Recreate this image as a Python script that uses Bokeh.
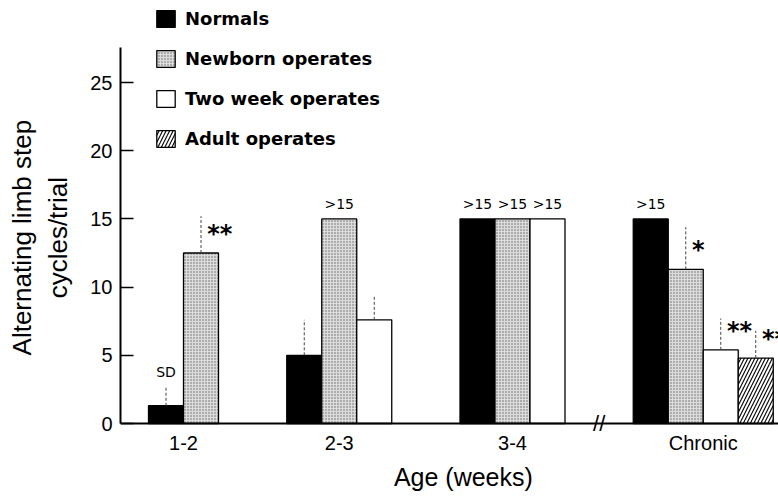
import math
import numpy as np
from bokeh.plotting import figure
from bokeh.models import ColumnDataSource, Range1d, FixedTicker, Legend, LegendItem, Label, Span
from bokeh.embed import file_html
from bokeh.resources import INLINE
from bokeh.core.properties import value

nan = float("nan")

# ---- data ----
groups = ["1-2", "2-3", "3-4", "Chronic"]
series_names = ["Normals", "Newborn operates", "Two week operates", "Adult operates"]
normals = [1.3, 5.0, 15.0, 15.0]
newborn = [12.5, 15.0, 15.0, 11.3]
two_week = [nan, 7.6, 15.0, 5.4]
adult = [nan, nan, nan, 4.8]
normals_sd = [1.4, 2.6, 0.0, 0.0]
newborn_sd = [2.7, 0.0, 0.0, 3.1]
two_week_sd = [0.0, 1.8, 0.0, 2.3]
adult_sd = [0.0, 0.0, 0.0, 2.0]
normals_note = ["SD", "", ">15", ">15"]
newborn_note = ["", ">15", ">15", ""]
two_week_note = ["", "", ">15", ""]
adult_note = ["", "", "", ""]
normals_sig = ["", "", "", ""]
newborn_sig = ["**", "", "", "*"]
two_week_sig = ["", "", "", "**"]
adult_sig = ["", "", "", "**"]
y_ticks = [0, 5, 10, 15, 20, 25]
y_axis_top = 27.57
x_title = "Age (weeks)"
y_title_lines = ["Alternating limb step", "cycles/trial"]

# ---- layout ----
W, H = 778, 498
FL, FB = 120, 67
PX_X, PX_Y = 35.0, 13.64          # pixels per x unit (one bar) / per y unit
BELOW = 8                         # pixels of frame below the zero line
group_base = [2.3, 6.25, 11.2, 16.15]
offsets = [-1, 0, 1, 2]
X_END = (W - FL) / PX_X
Y_START = -BELOW / PX_Y
Y_END = (H - FB - BELOW) / PX_Y
NBSP = "\u00a0"

p = figure(width=W, height=H, output_backend="svg", toolbar_location=None,
           x_range=Range1d(0, X_END), y_range=Range1d(Y_START, Y_END),
           min_border_left=FL, min_border_right=0, min_border_top=0, min_border_bottom=FB)
p.outline_line_color = None
p.grid.visible = False
p.background_fill_color = "white"

styles = [
    dict(fill_color="black", line_color="black"),
    dict(fill_color="#dcdcdc", line_color="black", hatch_pattern="dot",
         hatch_color="#666666", hatch_scale=3, hatch_weight=1),
    dict(fill_color="white", line_color="black"),
    dict(fill_color="white", line_color="black", hatch_pattern="right_diagonal_line",
         hatch_color="black", hatch_scale=7, hatch_weight=1.1),
]
all_vals = [normals, newborn, two_week, adult]
all_sd = [normals_sd, newborn_sd, two_week_sd, adult_sd]
all_note = [normals_note, newborn_note, two_week_note, adult_note]
all_sig = [normals_sig, newborn_sig, two_week_sig, adult_sig]

items = []
bar_x = {i: [] for i in range(len(groups))}
for s, (name, vals, sds, notes, sigs, st) in enumerate(
        zip(series_names, all_vals, all_sd, all_note, all_sig, styles)):
    xs = [group_base[g] + offsets[s] for g in range(len(groups))]
    for g, v in enumerate(vals):
        if not math.isnan(v):
            bar_x[g].append(xs[g])
    src = ColumnDataSource(dict(x=xs, top=vals))
    r = p.vbar(x="x", top="top", bottom=0, width=1.0, source=src, line_width=1.3, **st)
    items.append(LegendItem(label=name, renderers=[r]))
    ok = [g for g in range(len(groups)) if not math.isnan(vals[g]) and sds[g] > 0]
    if ok:
        p.segment(x0=[xs[g] for g in ok], x1=[xs[g] for g in ok],
                  y0=[vals[g] for g in ok], y1=[vals[g] + sds[g] for g in ok],
                  line_color="#444444", line_width=1, line_dash="3 2")
    nk = [g for g in range(len(groups)) if notes[g]]
    if nk:
        p.text(x=[xs[g] for g in nk], y=[vals[g] + sds[g] + 1.08 for g in nk],
               text=[notes[g] for g in nk], text_align="center", text_baseline="middle",
               text_font=value("DejaVu Sans"), text_font_size="14px", text_color="black")
    sk = [g for g in range(len(groups)) if sigs[g]]
    if sk:
        p.text(x=[xs[g] + 0.18 for g in sk], y=[vals[g] + 1.4 for g in sk],
               text=[sigs[g] for g in sk], text_align="left", text_baseline="alphabetic",
               text_font=value("DejaVu Sans"), text_font_style="bold",
               text_font_size="24px", text_color="black")

# zero line (x axis line)
p.add_layout(Span(location=0, dimension="width", line_color="black", line_width=2))

legend = Legend(items=items, location=(34, 274 + BELOW), padding=0, margin=0, spacing=19,
                glyph_width=23, glyph_height=21, label_height=21, label_standoff=8,
                label_text_font="DejaVu Sans", label_text_font_style="bold",
                label_text_font_size="18px", label_text_color="black",
                border_line_color=None, background_fill_alpha=0)
p.add_layout(legend)

# axes
tick_pos = [round(float(np.mean(bar_x[g])), 4) for g in range(len(groups))]
xa = p.xaxis[0]
xa.ticker = FixedTicker(ticks=tick_pos)
xa.major_label_overrides = {t: lab for t, lab in zip(tick_pos, groups)}
xa.major_tick_in = 0
xa.major_tick_out = 0
xa.minor_tick_line_color = None
xa.axis_line_color = None
xa.major_label_text_font = "Liberation Sans"
xa.major_label_text_font_size = "20px"
xa.major_label_text_color = "black"
xa.major_label_standoff = 0
# leading no-break spaces nudge the centred title to the right, as in the original
xa.axis_label = NBSP * 4 + x_title
xa.axis_label_text_font = "Liberation Sans"
xa.axis_label_text_font_style = "normal"
xa.axis_label_text_font_size = "25px"
xa.axis_label_text_color = "black"
xa.axis_label_standoff = 6

ya = p.yaxis[0]
ya.ticker = FixedTicker(ticks=y_ticks)
ya.bounds = (0, y_axis_top)
ya.major_tick_in = 13
ya.major_tick_out = 0
ya.major_tick_line_width = 1.3
ya.major_tick_line_color = "black"
ya.minor_tick_line_color = None
ya.axis_line_width = 2
ya.axis_line_color = "black"
ya.major_label_text_font = "Liberation Sans"
ya.major_label_text_font_size = "20px"
ya.major_label_text_color = "black"
ya.major_label_standoff = 8
# trailing no-break spaces centre the title on the drawn axis rather than the whole frame
ya.axis_label = "\n".join(line + NBSP * 6 for line in y_title_lines)
ya.axis_label_text_font = "Liberation Sans"
ya.axis_label_text_font_style = "normal"
ya.axis_label_text_font_size = "26px"
ya.axis_label_text_color = "black"
ya.axis_label_standoff = 14

# axis break marks
break_x = (group_base[2] + 1.5 + group_base[3] - 1.5) / 2
p.add_layout(Label(x=break_x, y=0, text="//", text_align="center", text_baseline="middle",
                   text_font="Liberation Sans", text_font_size="22px", text_color="black"))

open("out.html", "w").write(file_html(p, INLINE))
